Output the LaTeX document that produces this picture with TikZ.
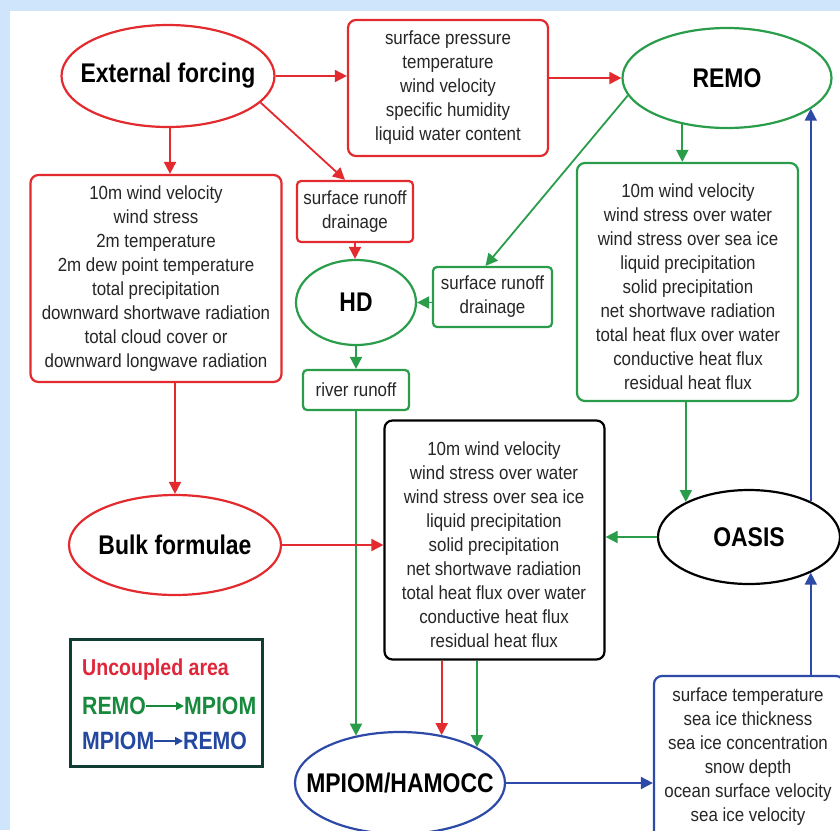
\documentclass[tikz,border=0pt]{standalone}
\usepackage{fontspec}
\setmainfont{Liberation Sans}[FakeStretch=0.89]
\newfontfamily\tfont{Liberation Sans}[FakeStretch=0.85]
\usetikzlibrary{shapes.geometric,arrows.meta}
\definecolor{cred}{HTML}{E32B2F}
\definecolor{cgreen}{HTML}{2A9D4A}
\definecolor{cblue}{HTML}{2D4AA8}
\definecolor{lgreen}{HTML}{178A3E}
\definecolor{lblue}{HTML}{2447A0}
\definecolor{lred}{HTML}{E0263A}
\definecolor{lframe}{HTML}{113C33}
\definecolor{bgblue}{HTML}{CFE5FB}
\newcommand{\zw}[1]{\makebox[0pt][c]{#1}}
\begin{document}
\begin{tikzpicture}[x=1pt,y=-1pt,
  body/.style={font=\fontsize{19}{24}\selectfont, align=center, text=black!85},
  abox/.style={rectangle, line width=2.2pt, rounded corners=8pt, inner sep=0pt, fill=white, body},
  ell/.style={ellipse, line width=2.2pt, inner sep=0pt, fill=white, font=\tfont\bfseries\fontsize{27}{30}\selectfont},
  arr/.style={line width=1.8pt, -{Triangle[length=12pt,width=12pt]}},
  legtxt/.style={anchor=west, inner sep=0pt, font=\tfont\bfseries\fontsize{25}{28}\selectfont},
  legarr/.style={line width=1.8pt, -{Triangle[length=8pt,width=8pt]}}
]
\useasboundingbox (0,0) rectangle (840,830);
\clip (0,0) rectangle (840,830);
\fill[bgblue] (0,0) rectangle (840,830);
\fill[white] (10,11) rectangle (842,832);

% nodes
\node[ell, draw=cred, minimum width=213pt, minimum height=102pt] (ef) at (168,76) {\zw{External forcing}};
\node[abox, draw=cred, minimum width=200pt, minimum height=136pt] (sp) at (448,88)
  {surface pressure\\temperature\\wind velocity\\specific humidity\\liquid water content};
\node[ell, draw=cgreen, minimum width=209pt, minimum height=100pt] (remo) at (727,78) {\zw{REMO}};
\node[abox, draw=cred, minimum width=251pt, minimum height=207pt] (lbox) at (156,278.5)
  {10m wind velocity\\wind stress\\2m temperature\\2m dew point temperature\\total precipitation\\downward shortwave radiation\\total cloud cover or\\downward longwave radiation};
\node[abox, draw=cred, rounded corners=4pt, minimum width=116pt, minimum height=61pt] (rsr) at (355,211.5)
  {surface runoff\\drainage};
\node[ell, draw=cgreen, minimum width=120pt, minimum height=85pt] (hd) at (356,302.5) {\zw{HD}};
\node[abox, draw=cgreen, rounded corners=4pt, minimum width=119pt, minimum height=60pt] (gsr) at (492.5,297)
  {surface runoff\\drainage};
\node[abox, draw=cgreen, rounded corners=4pt, minimum width=106pt, minimum height=40pt] (rr) at (356,390) {river runoff};
\node[abox, draw=cgreen, minimum width=221pt, minimum height=238pt] (gbox) at (687.5,282) {};
\node[body, inner sep=0pt] (gtext) at (688,287)
  {10m wind velocity\\wind stress over water\\wind stress over sea ice\\liquid precipitation\\solid precipitation\\net shortwave radiation\\total heat flux over water\\conductive heat flux\\residual heat flux};
\node[ell, draw=cred, minimum width=212pt, minimum height=100pt] (bulk) at (175,545) {\zw{Bulk formulae}};
\node[abox, draw=black, minimum width=220pt, minimum height=239pt] (bbox) at (494.5,540) {};
\node[body, inner sep=0pt] (btext) at (494,545)
  {10m wind velocity\\wind stress over water\\wind stress over sea ice\\liquid precipitation\\solid precipitation\\net shortwave radiation\\total heat flux over water\\conductive heat flux\\residual heat flux};
\node[ell, draw=black, minimum width=182pt, minimum height=94pt] (oasis) at (749,537) {\zw{OASIS}};
\node[ell, draw=cblue, minimum width=210pt, minimum height=102pt] (mpiom) at (400,783) {\zw{MPIOM/HAMOCC}};
\node[abox, draw=cblue, minimum width=190pt, minimum height=176pt] (bluebox) at (749,764) {};
\node[body, inner sep=0pt] (bluetext) at (748,757)
  {surface temperature\\sea ice thickness\\sea ice concentration\\snow depth\\ocean surface velocity\\sea ice velocity};

% green connectors
\draw[arr, cgreen] (remo.190) -- ([xshift=-7pt]gsr.north);
\draw[arr, cgreen] (remo.226) -- (remo.226 |- gbox.north);
\draw[arr, cgreen] (hd -| gsr.west) -- (hd);
\draw[arr, cgreen] (hd.south) -- (hd.south |- rr.north);
\draw[arr, cgreen] (rr.south) -- (rr.south |- mpiom.133.5);
\draw[arr, cgreen] (oasis.151 |- gbox.south) -- (oasis.151);
\draw[arr, cgreen] (oasis) -- (oasis -| bbox.east);
\draw[arr, cgreen] (mpiom.25.5 |- bbox.south) -- (mpiom.25.5);

% red connectors
\draw[arr, cred] (ef) -- (ef -| sp.west);
\draw[arr, cred] (sp.east |- remo) -- (remo);
\draw[arr, cred] (170,127) coordinate (efs) -- (efs |- lbox.north);
\draw[arr, cred] (ef.344) -- ([xshift=-10pt]rsr.north);
\draw[arr, cred] (rsr.south) -- (rsr.south |- hd.north);
\draw[arr, cred] (bulk.north |- lbox.south) -- (bulk.north);
\draw[arr, cred] (bulk) -- (bulk -| bbox.west);
\draw[arr, cred] (mpiom.49 |- bbox.south) -- (mpiom.49);

% blue connectors
\draw[arr, cblue] (mpiom) -- (mpiom -| bluebox.west);
\draw[arr, cblue] (oasis.330 |- bluebox.north) -- (oasis.330);
\draw[arr, cblue] (oasis.30) -- (oasis.30 |- remo.340);

% legend
\node[draw=lframe, line width=3pt, minimum width=192pt, minimum height=127pt, inner sep=0pt] (legend) at (166,702.5) {};
\node[legtxt, text=lred, font=\tfont\bfseries\fontsize{23}{26}\selectfont] (l1) at (82,670) {Uncoupled area};
\node[legtxt, text=lgreen] (l2a) at (82,706) {REMO};
\node[legtxt, text=lgreen] (l2b) at (184,706) {MPIOM};
\node[legtxt, text=lblue] (l3a) at (82,741) {MPIOM};
\node[legtxt, text=lblue] (l3b) at (183,741) {REMO};
\draw[legarr, lgreen] (l2a.east) -- (l2b.west);
\draw[legarr, lblue] (l3a.east) -- (l3b.west);
\end{tikzpicture}
\end{document}
